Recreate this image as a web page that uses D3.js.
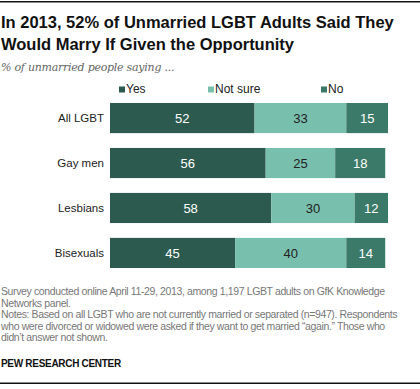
<!DOCTYPE html>
<html>
<head>
<meta charset="utf-8">
<script src="https://cdn.jsdelivr.net/npm/d3@7"></script>
<style>
body { margin: 0; background: #fff; }
</style>
</head>
<body>
<div id="chart"></div>
<script>
var groups = ["All LGBT", "Gay men", "Lesbians", "Bisexuals"];
var answers = ["Yes", "Not sure", "No"];
var yes = [52, 56, 58, 45];
var notSure = [33, 25, 30, 40];
var no = [15, 18, 12, 14];

var colors = ["#2d5a4f", "#79bfae", "#3b7a69"];
var labelColors = ["#fff", "#222", "#fff"];

(function () {
var width = 420, height = 389;
var sans = "Liberation Sans, Arial, sans-serif";
var svg = d3.select("#chart").append("svg")
.attr("width", width)
.attr("height", height)
.style("font-family", sans)

svg.append("rect").attr("x", 0).attr("y", 1).attr("width", width).attr("height", 1.5).attr("fill", "#111")
svg.append("rect").attr("x", 0).attr("y", 382.5).attr("width", width).attr("height", 1.5).attr("fill", "#111")

var title = ["In 2013, 52% of Unmarried LGBT Adults Said They", "Would Marry If Given the Opportunity"];
svg.selectAll(".title").data(title).enter().append("text")
.attr("x", 1)
.attr("y", function(d, i){ return 28 + i * 22 })
.attr("font-size", 16.5)
.attr("font-weight", "bold")
.attr("fill", "#111")
.text(function(d){ return d })

svg.append("text")
.attr("x", 1).attr("y", 71)
.style("font-family", "DejaVu Serif, serif")
.attr("font-style", "italic")
.attr("font-size", 11)
.attr("letter-spacing", -0.25)
.attr("fill", "#666")
.text("% of unmarried people saying ...")

var rows = groups.map(function(g, i){
	return { group: g, values: [yes[i], notSure[i], no[i]] };
});

var x = d3.scaleLinear().domain([0, 100]).range([110, 388]);
var y = d3.scaleBand().domain(groups).range([103, 268]).paddingInner(0.33).paddingOuter(0);

// legend
var legendX = [119, 208, 321];
var legend = svg.selectAll(".legend").data(answers).enter().append("g")
.attr("transform", function(d, i){ return "translate(" + legendX[i] + ",86)" })
legend.append("rect").attr("width", 6).attr("height", 6).attr("y", 0.5)
.attr("fill", function(d, i){ return colors[i] })
legend.append("text").attr("x", 7).attr("y", 7).attr("font-size", 12).attr("fill", "#222")
.text(function(d){ return d })

var bars = svg.selectAll(".row").data(rows).enter().append("g")
.attr("transform", function(d){ return "translate(0," + y(d.group) + ")" })

bars.append("text")
.attr("x", 104)
.attr("y", y.bandwidth() / 2 + 4)
.attr("text-anchor", "end")
.attr("font-size", 11.5)
.attr("fill", "#222")
.text(function(d){ return d.group })

bars.each(function(d){
	var g = d3.select(this);
	var start = 0;
	var segs = d.values.map(function(v, i){
		var s = { v: v, i: i, x0: start };
		start += v;
		return s;
	});
	g.selectAll("rect").data(segs).enter().append("rect")
	.attr("x", function(s){ return x(s.x0) })
	.attr("width", function(s){ return x(s.x0 + s.v) - x(s.x0) })
	.attr("height", y.bandwidth())
	.attr("fill", function(s){ return colors[s.i] })
	g.selectAll(".val").data(segs).enter().append("text")
	.attr("x", function(s){ return (x(s.x0) + x(s.x0 + s.v)) / 2 })
	.attr("y", y.bandwidth() / 2 + 5)
	.attr("text-anchor", "middle")
	.attr("font-size", 13)
	.attr("fill", function(s){ return labelColors[s.i] })
	.text(function(s){ return s.v })
})

var notes = [
	"Survey conducted online April 11-29, 2013, among 1,197 LGBT adults on GfK Knowledge",
	"Networks panel.",
	"Notes: Based on all LGBT who are not currently married or separated (n=947). Respondents",
	"who were divorced or widowed were asked if they want to get married \u201cagain.\u201d Those who",
	"didn\u2019t answer not shown."
];
svg.selectAll(".note").data(notes).enter().append("text")
.attr("x", 1)
.attr("y", function(d, i){ return 295 + i * 11.5 })
.attr("font-size", 10.5)
.attr("letter-spacing", -0.38)
.attr("fill", "#777")
.text(function(d){ return d })

svg.append("text")
.attr("x", 1).attr("y", 367)
.attr("font-size", 10)
.attr("font-weight", "bold")
.attr("fill", "#111")
.attr("letter-spacing", -0.3)
.text("PEW RESEARCH CENTER")
})();
</script>
</body>
</html>
